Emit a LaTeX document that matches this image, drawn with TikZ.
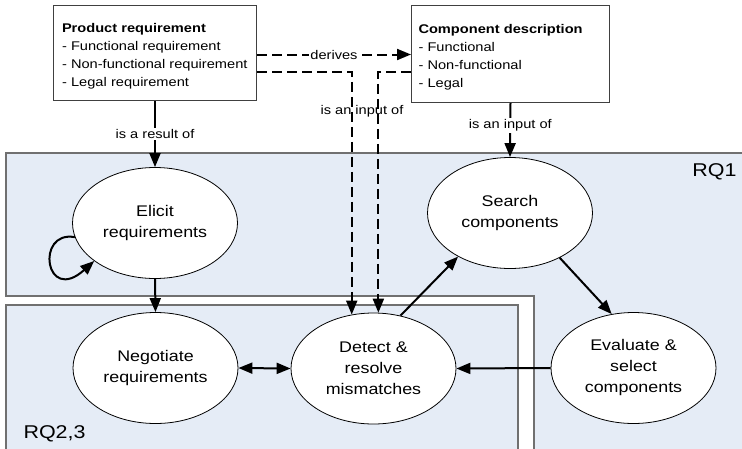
\documentclass[tikz,border=0pt]{standalone}
\usepackage{fontspec}
\setmainfont{Liberation Sans}[FakeStretch=1.16]
\usetikzlibrary{arrows.meta,shapes.geometric}
\definecolor{rqfill}{RGB}{229,236,246}
\definecolor{rqline}{RGB}{112,112,112}
\definecolor{boxline}{RGB}{64,64,64}
\tikzset{
 region/.style={fill=rqfill, draw=rqline, line width=2pt},
 infobox/.style={draw=boxline, line width=1pt, fill=white, anchor=north west, align=left, font=\fontsize{12.6}{18.2}\selectfont},
 proc/.style={ellipse, draw=black, line width=0.8pt, fill=white, minimum width=165pt, minimum height=111pt, inner sep=0pt, align=center, font=\fontsize{15.4}{21}\selectfont},
 flow/.style={line width=2pt, -{Triangle[length=14pt,width=11pt]}},
 dflow/.style={flow, dash pattern=on 10pt off 5pt},
 lbl/.style={font=\fontsize{12.6}{15}\selectfont, inner sep=1.5pt},
 rqlbl/.style={font=\fontsize{18.5}{22}\selectfont},
}
\begin{document}
\begin{tikzpicture}[x=1pt,y=-1pt]
\useasboundingbox (0,0) rectangle (742,448);
\clip (0,0) rectangle (742,448);
% regions
\draw[region] (6,153) -- (750,153) -- (750,460) -- (534,460) -- (534,296) -- (6,296) -- cycle;
\draw[region] (6,305) -- (518,305) -- (518,460) -- (6,460) -- cycle;
\node[rqlbl, anchor=base east] (rq1) at (740,176) {RQ1};
\node[rqlbl, anchor=base west] (rq23) at (20,438) {RQ2,3};
% boxes
\node[infobox, text width=186pt, inner xsep=8.5pt, minimum height=95pt] (prod) at (53,5)
 {\rule{0pt}{15.6pt}\textbf{Product requirement}\\- Functional requirement\\- Non-functional requirement\\- Legal requirement};
\node[infobox, text width=184pt, inner xsep=7pt, minimum height=97pt] (comp) at (411,5)
 {\rule{0pt}{15.6pt}\textbf{Component description}\\- Functional\\- Non-functional\\- Legal};
% processes
\node[proc] (elicit) at (155,223) {Elicit\\requirements};
\node[proc] (search) at (510,213) {Search\\components};
\node[proc] (nego) at (155.5,368) {Negotiate\\requirements};
\node[proc] (detect) at (373.5,368.5) {Detect \&\\resolve\\mismatches};
\node[proc] (eval) at (633.5,368) {Evaluate \&\\select\\components};
% connectors
\draw[flow] (prod.south -| elicit.north) -- node[lbl, fill=white] {is a result of} (elicit.north);
\draw[flow] (comp.south) -- node[lbl, fill=white, pos=0.42] {is an input of} (search.north);
\draw[dflow] ([yshift=-1.5pt]prod.east) coordinate (d0) -- node[lbl, fill=white] {derives} (d0 -| comp.west);
\draw[dflow] ([yshift=-18.5pt]prod.east) -| (detect.112);
\draw[dflow] ([yshift=-17.5pt]comp.west) -| (detect.85);
\node[lbl] (inlbl) at (362,111) {is an input of};
\draw[flow] (elicit.south) -- (nego.north);
\draw[flow] (elicit.190) .. controls (35,230) and (45,305) .. (elicit.212);
\draw[line width=2pt, {Triangle[length=14pt,width=11pt]}-{Triangle[length=14pt,width=11pt]}] (nego.east) -- (detect.west);
\draw[flow] (detect.63) -- (search.220);
\draw[flow] (search.318) -- (eval.112);
\draw[flow] (eval.west) -- (detect.east);
\end{tikzpicture}
\end{document}
